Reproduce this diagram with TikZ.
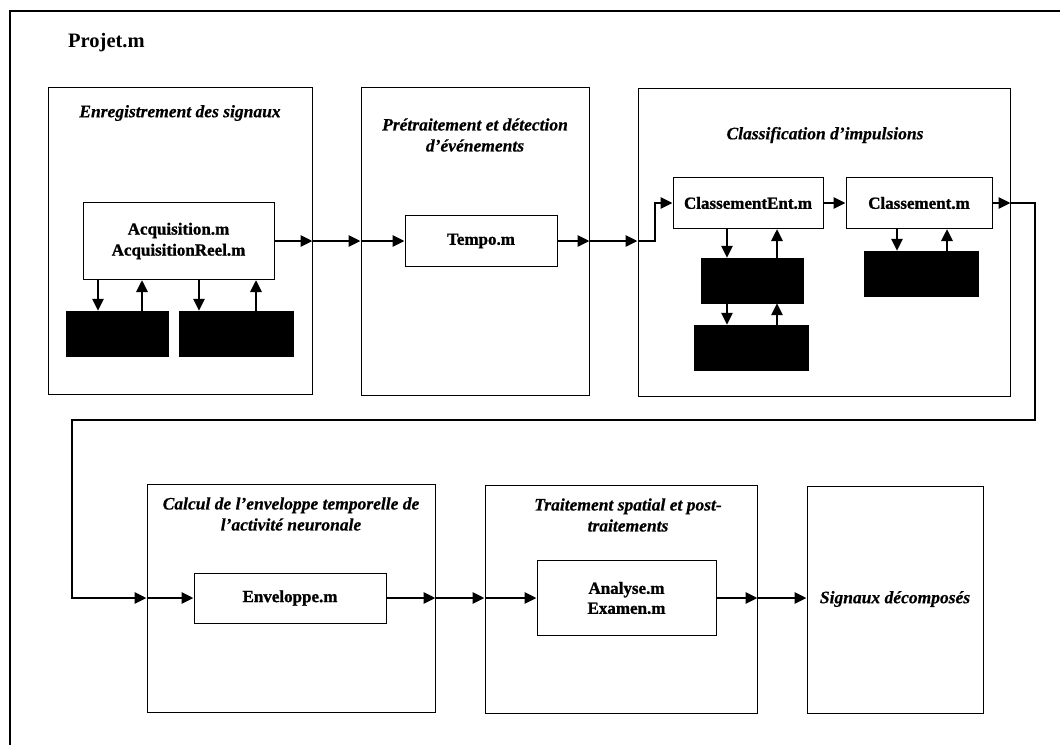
\documentclass[tikz,border=0pt]{standalone}
\usepackage{fontspec}
\setmainfont{Liberation Serif}
% a heavier cut of the bold faces, for the scanned-ink look of the labels
\newfontfamily\heavyserif{Liberation Serif}[BoldFeatures={FakeBold=1.2},BoldItalicFeatures={FakeBold=0.5}]
\usetikzlibrary{arrows.meta}
\begin{document}
\begin{tikzpicture}[x=1pt,y=-1pt,
  stage/.style={draw,line width=1pt,inner sep=0pt,anchor=center},
  module/.style={draw,line width=1pt,inner sep=0pt,anchor=center,align=center,
    font=\heavyserif\fontsize{17}{21}\selectfont\bfseries},
  store/.style={draw=black,fill=black,inner sep=0pt,anchor=center},
  title/.style={inner sep=0pt,align=center,font=\heavyserif\fontsize{17.5}{21}\selectfont\bfseries\itshape},
  flow/.style={line width=2.8pt,-{Triangle[length=12pt,width=11pt]}},
  frame/.style={line width=1.1pt}]
\useasboundingbox (0,0) rectangle (1060,745);

% outer frame of Projet.m
\coordinate (fTL) at (10,11);
\coordinate (fTR) at (1060,11);
\coordinate (fBL) at (10,745);
\draw[frame] (fBL) -- (fTL) -- (fTR);
\node[inner sep=0pt,anchor=west,font=\fontsize{20.5}{24}\selectfont\bfseries] (proj) at (68,43) {Projet.m};

% ---- stages, first row ----
\node[stage,minimum width=264pt,minimum height=307pt] (B1) at (180,240.5) {};
\node[stage,minimum width=228pt,minimum height=308pt] (B2) at (475,241) {};
\node[stage,minimum width=372pt,minimum height=308pt] (B3) at (824,242) {};

\node[title] (t1) at (180,113) {Enregistrement des signaux};
\node[title] (t2) at (475,135) {Prétraitement et détection\\d’événements};
\node[title] (t3) at (825,135) {Classification d’impulsions};

\node[module,minimum width=191pt,minimum height=77pt] (Acq) at (178.5,241) {Acquisition.m\\AcquisitionReel.m};
\node[store,minimum width=102pt,minimum height=45pt] (sA1) at (117,333.5) {};
\node[store,minimum width=114pt,minimum height=45pt] (sA2) at (236,333.5) {};

\node[module,minimum width=152pt,minimum height=51pt] (Tempo) at (481,241) {Tempo.m};

\node[module,minimum width=150pt,minimum height=51pt] (CE) at (748,203) {ClassementEnt.m};
\node[module,minimum width=146pt,minimum height=51pt] (Cl) at (919,203) {Classement.m};
\node[store,minimum width=102pt,minimum height=45pt] (sC1) at (752,280.5) {};
\node[store,minimum width=114pt,minimum height=45pt] (sC2) at (751,347.5) {};
\node[store,minimum width=114pt,minimum height=45pt] (sD) at (921,273.5) {};

% ---- stages, second row ----
\node[stage,minimum width=288pt,minimum height=228pt] (B4) at (291,598) {};
\node[stage,minimum width=272pt,minimum height=228pt] (B5) at (621,599) {};
\node[stage,minimum width=176pt,minimum height=227pt] (B6) at (895,599.5) {};

\node[title] (t4) at (291,514) {Calcul de l’enveloppe temporelle de\\l’activité neuronale};
\node[title] (t5) at (628,515) {Traitement spatial et post-\\traitements};
\node[title] (t6) at (895,599) {Signaux décomposés};

\node[module,minimum width=192pt,minimum height=50pt] (Env) at (290,598) {Enveloppe.m};
\node[module,minimum width=179pt,minimum height=75pt,font=\heavyserif\fontsize{17}{20}\selectfont\bfseries] (Ana) at (626.5,598) {Analyse.m\\Examen.m};

% ---- data flow ----
\draw[flow] (Acq.east) -- (Acq.east -| B1.east);
\draw[flow] (Acq.east -| B1.east) -- (Acq.east -| B2.west);
\draw[flow] (Acq.east -| B2.west) -- (Tempo.west);
\draw[flow] (Tempo.east) -- (Tempo.east -| B2.east);
\draw[flow] (Tempo.east -| B2.east) -- (Tempo.east -| B3.west);
\coordinate (jog) at (655,241);
\draw[flow] (Tempo.east -| B3.west) -- (jog) -- (jog |- CE.west) -- (CE.west);
\draw[flow] (CE.east) -- (Cl.west);
\draw[flow] (Cl.east) -- (Cl.east -| B3.east);
\coordinate (turnR) at (1035,420);
\coordinate (turnL) at (72,420);
\draw[flow] (Cl.east -| B3.east) -- (Cl.east -| turnR) -- (turnR) -- (turnL)
  -- (turnL |- Env.west) -- (B4.west |- Env.west);
\draw[flow] (B4.west |- Env.west) -- (Env.west);
\draw[flow] (Env.east) -- (Env.east -| B4.east);
\draw[flow] (Env.east -| B4.east) -- (Env.east -| B5.west);
\draw[flow] (Env.east -| B5.west) -- (Ana.west);
\draw[flow] (Ana.east) -- (Ana.east -| B5.east);
\draw[flow] (Ana.east -| B5.east) -- (B6.west |- Ana.east);

% ---- exchanges with the stores ----
\draw[flow] ([xshift=-19pt]sA1.north |- Acq.south) -- ([xshift=-19pt]sA1.north);
\draw[flow] ([xshift=25pt]sA1.north) -- ([xshift=25pt]sA1.north |- Acq.south);
\draw[flow] ([xshift=-37pt]sA2.north |- Acq.south) -- ([xshift=-37pt]sA2.north);
\draw[flow] ([xshift=20pt]sA2.north) -- ([xshift=20pt]sA2.north |- Acq.south);

\draw[flow] ([xshift=-25pt]sC1.north |- CE.south) -- ([xshift=-25pt]sC1.north);
\draw[flow] ([xshift=25pt]sC1.north) -- ([xshift=25pt]sC1.north |- CE.south);
\draw[flow] ([xshift=-25pt]sC1.south) -- ([xshift=-25pt]sC1.south |- sC2.north);
\draw[flow] ([xshift=25pt]sC1.south |- sC2.north) -- ([xshift=25pt]sC1.south);

\draw[flow] ([xshift=-24pt]sD.north |- Cl.south) -- ([xshift=-24pt]sD.north);
\draw[flow] ([xshift=26pt]sD.north) -- ([xshift=26pt]sD.north |- Cl.south);
\end{tikzpicture}
\end{document}
